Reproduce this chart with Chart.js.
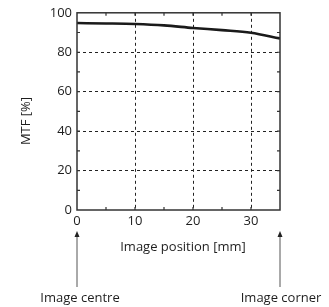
<!DOCTYPE html>
<html>
<head>
<meta charset="utf-8">
<script src="https://cdn.jsdelivr.net/npm/chart.js@4"></script>
<style>
  html, body { margin: 0; padding: 0; background: #fff; }
  #wrap { width: 329px; height: 307px; }
</style>
</head>
<body>
<div id="wrap"><canvas id="mtf"></canvas></div>
<script>
// data
const positions = [0, 5, 10, 15, 20, 25, 30, 35];
const mtfValues = [94.8, 94.6, 94.3, 93.6, 92.3, 91.2, 89.9, 87.0];
const xLabelTicks = [0, 10, 20, 30];
const yLabelTicks = [0, 20, 40, 60, 80, 100];

const FONT = "'Open Sans', 'DejaVu Sans', sans-serif";
const INK = '#1e1e1e';

// frame, inner ticks, titles and the two arrows
const decor = {
  id: 'decor',
  afterDraw(chart) {
    const ctx = chart.ctx;
    const a = chart.chartArea;
    const xs = chart.scales.x;
    const ys = chart.scales.y;
    ctx.save();

    ctx.strokeStyle = '#333';
    ctx.lineWidth = 1.5;
    ctx.strokeRect(a.left, a.top, a.right - a.left, a.bottom - a.top);

    ctx.lineWidth = 1.2;
    ctx.beginPath();
    for (let v = 5; v < 35; v += 5) {
      const px = xs.getPixelForValue(v);
      ctx.moveTo(px, a.bottom); ctx.lineTo(px, a.bottom - 3);
      ctx.moveTo(px, a.top); ctx.lineTo(px, a.top + 3);
    }
    for (let v = 10; v < 100; v += 10) {
      const py = ys.getPixelForValue(v);
      ctx.moveTo(a.left, py); ctx.lineTo(a.left + 3, py);
      ctx.moveTo(a.right, py); ctx.lineTo(a.right - 3, py);
    }
    ctx.stroke();

    ctx.fillStyle = INK;
    ctx.font = '13px ' + FONT;
    ctx.textAlign = 'center';
    ctx.textBaseline = 'middle';
    ctx.fillText('Image position [mm]', 183, 247);

    ctx.save();
    ctx.translate(26, 121);
    ctx.rotate(-Math.PI / 2);
    ctx.fillText('MTF [%]', 0, 0);
    ctx.restore();

    // arrows from the notes up to the axis ends
    ctx.strokeStyle = '#555';
    ctx.fillStyle = '#222';
    ctx.lineWidth = 1;
    [xs.getPixelForValue(0), xs.getPixelForValue(35)].forEach(px => {
      ctx.beginPath();
      ctx.moveTo(px, 287); ctx.lineTo(px, 234);
      ctx.stroke();
      ctx.beginPath();
      ctx.moveTo(px, 231); ctx.lineTo(px - 2.5, 237); ctx.lineTo(px + 2.5, 237);
      ctx.closePath();
      ctx.fill();
    });

    ctx.fillStyle = INK;
    ctx.fillText('Image centre', 80, 298);
    ctx.fillText('Image corner', 281, 298);
    ctx.restore();
  }
};

const dashColor = (ctx, major, last) => {
  const v = ctx.tick ? ctx.tick.value : null;
  if (v === null || v === 0 || v === last) return 'rgba(0,0,0,0)';
  return v % major === 0 ? '#222' : 'rgba(0,0,0,0)';
};

new Chart(document.getElementById('mtf'), {
  type: 'line',
  data: {
    datasets: [{
      data: positions.map((p, i) => ({ x: p, y: mtfValues[i] })),
      borderColor: '#1a1a1a',
      borderWidth: 2.6,
      pointRadius: 0,
      cubicInterpolationMode: 'monotone',
      fill: false
    }]
  },
  options: {
    responsive: true,
    maintainAspectRatio: false,
    animation: false,
    layout: { padding: { left: 0, right: 49, top: 12, bottom: 0 } },
    plugins: { legend: { display: false }, tooltip: { enabled: false } },
    scales: {
      x: {
        type: 'linear',
        min: 0,
        max: 35,
        afterFit(scale) { scale.height = 97; },
        ticks: {
          stepSize: 5,
          padding: 3,
          color: INK,
          font: { family: FONT, size: 13 },
          callback: v => xLabelTicks.includes(v) ? String(v) : ''
        },
        grid: {
          drawTicks: false,
          lineWidth: 1,
          color: ctx => dashColor(ctx, 10, 35)
        },
        border: { display: false, dash: [3, 3] }
      },
      y: {
        min: 0,
        max: 100,
        afterFit(scale) { scale.width = 77; },
        ticks: {
          stepSize: 10,
          padding: 5,
          color: INK,
          font: { family: FONT, size: 13 },
          callback: v => yLabelTicks.includes(v) ? String(v) : ''
        },
        grid: {
          drawTicks: false,
          lineWidth: 1,
          color: ctx => dashColor(ctx, 20, 100)
        },
        border: { display: false, dash: [3, 3] }
      }
    }
  },
  plugins: [decor]
});
</script>
</body>
</html>
